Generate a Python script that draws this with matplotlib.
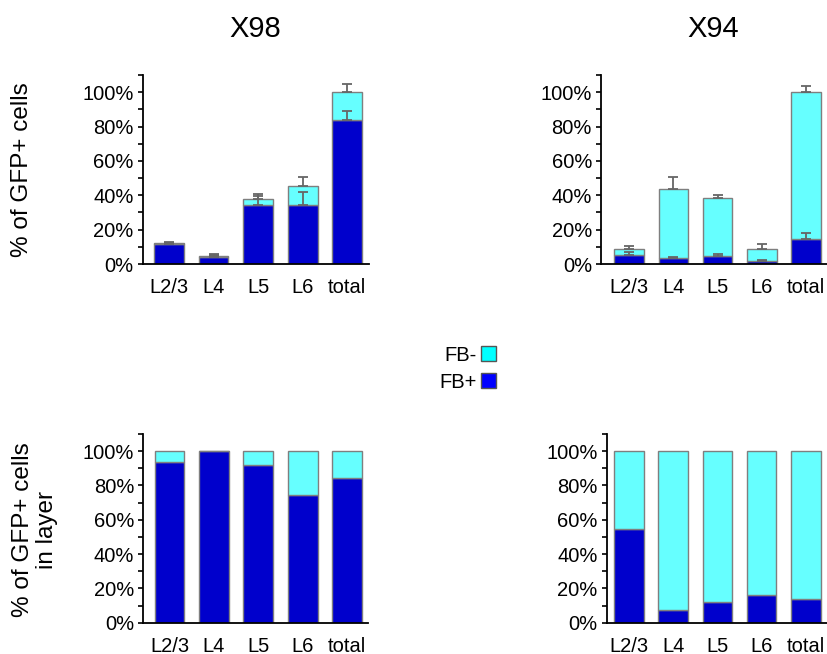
import matplotlib
matplotlib.use('Agg')
import matplotlib.pyplot as plt
from matplotlib.patches import Patch
from matplotlib.ticker import MultipleLocator, PercentFormatter
import numpy as np

plt.rcParams['font.family'] = ['Liberation Sans', 'DejaVu Sans']

layers = ['L2/3', 'L4', 'L5', 'L6', 'total']

# top row: % of all GFP+ cells (mean + error)
x98_pos = [11.5, 4.2, 34.5, 34.1, 84.1]
x98_pos_err = [0.5, 1.2, 5.0, 8.1, 5.0]
x98_neg = [0.8, 0.3, 3.1, 11.4, 15.9]
x98_tot_err = [0.8, 1.1, 3.1, 5.1, 4.6]

x94_pos = [5.0, 3.3, 4.8, 1.7, 14.5]
x94_pos_err = [2.1, 0.9, 0.8, 0.6, 3.5]
x94_neg = [3.7, 40.6, 33.7, 7.2, 85.5]
x94_tot_err = [1.9, 6.8, 1.9, 2.9, 3.7]

# bottom row: % of GFP+ cells within each layer
x98_layer_pos = [93.6, 100.0, 91.8, 74.7, 84.6]
x98_layer_neg = [6.4, 0.0, 8.2, 25.3, 15.4]
x94_layer_pos = [54.6, 7.2, 12.2, 16.0, 14.0]
x94_layer_neg = [45.4, 92.8, 87.8, 84.0, 86.0]

C_POS = '#0000CC'
C_NEG = '#66FFFF'
EDGE = '#7f7f7f'
FS = 14.5


def style(ax, xlim):
    ax.set_xlim(*xlim)
    ax.set_ylim(0, 110)
    for s in ['top', 'right']:
        ax.spines[s].set_visible(False)
    ax.spines['left'].set_linewidth(1.3)
    ax.spines['bottom'].set_linewidth(1.3)
    ax.yaxis.set_minor_locator(MultipleLocator(10))
    ax.yaxis.set_major_formatter(PercentFormatter(decimals=0))
    ax.set_yticks([0, 20, 40, 60, 80, 100])
    ax.tick_params(axis='y', which='both', direction='out', length=3.5,
                   width=1.2, labelsize=FS, pad=3)
    ax.tick_params(axis='x', length=0, labelsize=FS, pad=10)
    ax.set_xticks(np.arange(len(layers)))
    ax.set_xticklabels(layers)


def stacked(ax, pos, neg, pos_err=None, tot_err=None):
    x = np.arange(len(layers))
    pos = np.array(pos)
    neg = np.array(neg)
    ax.bar(x, pos, 0.67, color=C_POS, edgecolor=EDGE, linewidth=1, zorder=2)
    ax.bar(x, neg, 0.67, bottom=pos, color=C_NEG, edgecolor=EDGE,
           linewidth=1, zorder=2)
    if pos_err is not None:
        ax.errorbar(x, pos, yerr=[np.zeros(len(x)), pos_err], fmt='none',
                    ecolor='#666666', elinewidth=1.3, capsize=3.7,
                    capthick=1.3, zorder=3)
        ax.errorbar(x, pos + neg, yerr=[np.zeros(len(x)), tot_err],
                    fmt='none', ecolor='#666666', elinewidth=1.3,
                    capsize=3.7, capthick=1.3, zorder=3)


fig = plt.figure(figsize=(8.28, 6.54), dpi=100)

ax1 = fig.add_axes([0.1723, 0.5963, 0.2734, 0.289])
stacked(ax1, x98_pos, x98_neg, x98_pos_err, x98_tot_err)
style(ax1, (-0.59, 4.49))

ax2 = fig.add_axes([0.7258, 0.5963, 0.2742, 0.289])
stacked(ax2, x94_pos, x94_neg, x94_pos_err, x94_tot_err)
style(ax2, (-0.64, 4.5))

ax3 = fig.add_axes([0.173, 0.0479, 0.2714, 0.2885])
stacked(ax3, x98_layer_pos, x98_layer_neg)
style(ax3, (-0.59, 4.47))

ax4 = fig.add_axes([0.7327, 0.0479, 0.2673, 0.2885])
stacked(ax4, x94_layer_pos, x94_layer_neg)
style(ax4, (-0.5, 4.5))

fig.text(0.308, 0.956, 'X98', ha='center', va='center', fontsize=21)
fig.text(0.861, 0.956, 'X94', ha='center', va='center', fontsize=21)

fig.text(0.026, 0.74, '% of GFP+ cells', rotation=90, ha='center',
         va='center', fontsize=17.5)
fig.text(0.042, 0.19, '% of GFP+ cells\nin layer', rotation=90,
         ha='center', va='center', fontsize=17.5, linespacing=1.15)

handles = [Patch(facecolor='#00FFFF', edgecolor='#555555'),
           Patch(facecolor='#0000FF', edgecolor='#555555')]
fig.legend(handles, ['FB-', 'FB+'], loc='center right',
           bbox_to_anchor=(0.621, 0.436), frameon=False, markerfirst=False,
           fontsize=FS, handlelength=0.75, handleheight=0.75,
           handletextpad=0.2, labelspacing=0.4)

fig.savefig('out.png', dpi=100)
